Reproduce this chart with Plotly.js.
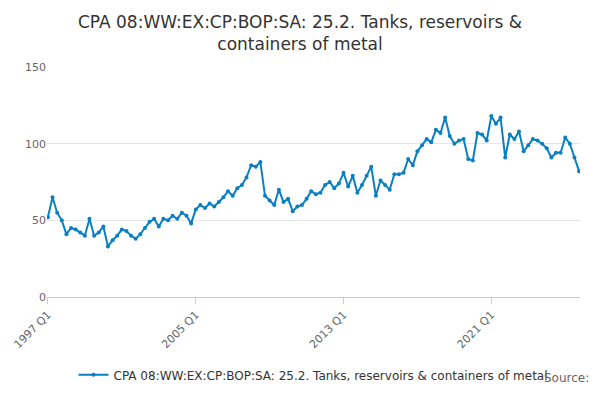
<!DOCTYPE html>
<html><head><meta charset="utf-8">
<script src="https://cdn.plot.ly/plotly-3.0.1.min.js"></script>
<style>body{margin:0}#chart{width:600px;height:400px}</style>
</head><body><div id="chart"></div>
<script>
var values = [52,65,55,50,41,45,44,42,40,51,40,42,46,33,37,40,44,43,40,38,41,45,49,51,46,51,50,53,51,55,53,48,
  57,60,58,61,59,62,65,69,66,71,73,78,86,85,88,
  66,63,60,70,62,64,56,59,60,64,69,67,68,73,75,71,74,81,
  72,79,68,73,79,85,66,76,73,70,80,80,81,90,86,95,99,103,101,109,107,117,
  105,100,102,103,90,89,107,106,102,118,113,117,91,106,103,108,95,99,103,102,100,97,91,94,94,104,100,91,82];
var quarters = [];
for (var i = 0; i < values.length; i++) {
  quarters.push((1997 + Math.floor(i / 4)) + ' Q' + (i % 4 + 1));
}
var tickLabels = ['1997 Q1', '2005 Q1', '2013 Q1', '2021 Q1', '2026 Q1'];
var seriesName = 'CPA 08:WW:EX:CP:BOP:SA: 25.2. Tanks, reservoirs & containers of metal';

var trace1 = {
  type: 'scatter', x: quarters, y: values, mode: 'lines+markers', name: seriesName,
  line: {color: '#0a7fc2', width: 2}, marker: {color: '#0a7fc2', size: 4}
};
var layout = {
  title: {text: 'CPA 08:WW:EX:CP:BOP:SA: 25.2. Tanks, reservoirs &<br>containers of metal',
    font: {family: 'DejaVu Sans', size: 17, color: '#333'}, y: 0.93, yanchor: 'top'},
  font: {family: 'DejaVu Sans', color: '#666'},
  margin: {l: 47, r: 20, t: 67, b: 102},
  showlegend: true,
  legend: {orientation: 'h', x: 0.5, xanchor: 'center', y: -0.27, font: {size: 12, color: '#333'}},
  xaxis: {type: 'category', tickvals: tickLabels, ticktext: tickLabels, tickangle: -45,
    showgrid: false, ticks: 'outside', ticklen: 6, tickcolor: '#ccc', showline: true, linecolor: '#ccc',
    range: [-0.2, values.length - 0.8], tickfont: {size: 11}},
  yaxis: {range: [0, 150], tickvals: [0, 50, 100, 150], gridcolor: '#e6e6e6', zeroline: false, tickfont: {size: 11}},
  annotations: [{text: 'Source:', xref: 'paper', yref: 'paper', x: 1.02, y: -0.39, xanchor: 'right',
    showarrow: false, font: {size: 12, color: '#666'}}],
  plot_bgcolor: '#fff', paper_bgcolor: '#fff'
};
Plotly.newPlot('chart', [trace1], layout, {displayModeBar: false});
</script></body></html>
